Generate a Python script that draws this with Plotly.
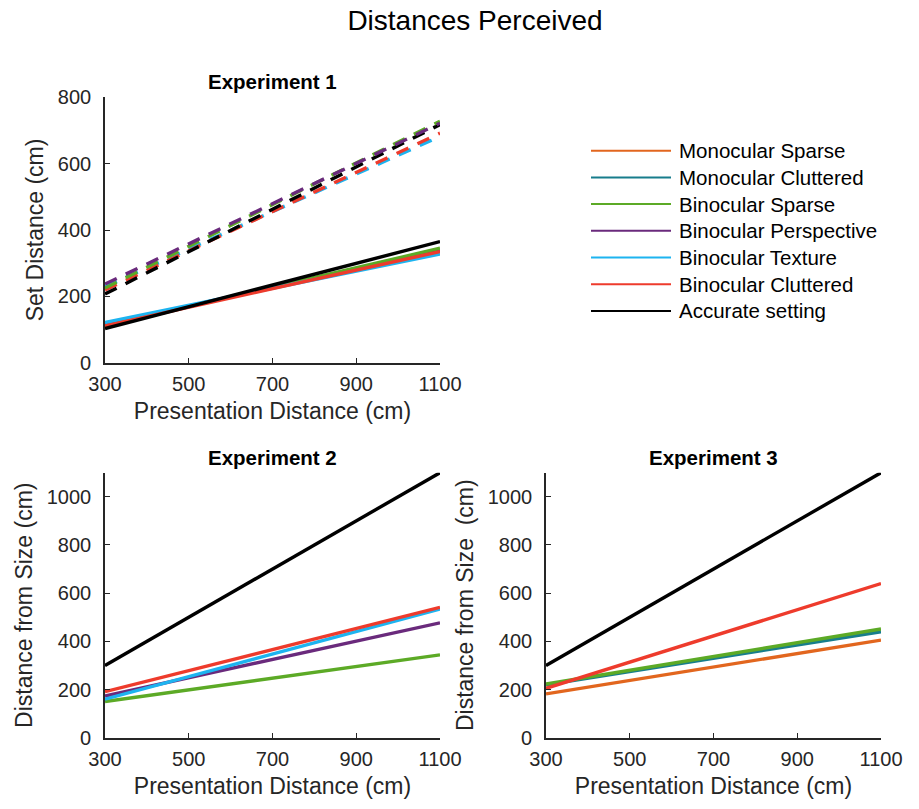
import plotly.graph_objects as go

# ---------------- data ----------------
x_ends = [300, 1100]
x_ticks = [300, 500, 700, 900, 1100]
y_ticks_exp1 = [0, 200, 400, 600, 800]
y_ticks_exp23 = [0, 200, 400, 600, 800, 1000]

series_names = ["Monocular Sparse", "Monocular Cluttered", "Binocular Sparse",
                "Binocular Perspective", "Binocular Texture", "Binocular Cluttered",
                "Accurate setting"]
series_colors = ["#E2661E", "#177D8C", "#5CAA26", "#6A2A7C", "#1DB4F0", "#EE3B2C", "#000000"]

# Experiment 1 - dashed set of lines
exp1_dashed_bin_sparse = [225, 728]
exp1_dashed_bin_persp = [237, 722]
exp1_dashed_bin_texture = [229, 682]
exp1_dashed_bin_clutter = [219, 692]
exp1_dashed_accurate = [207, 718]

# Experiment 1 - solid set of lines
exp1_solid_bin_sparse = [110, 345]
exp1_solid_bin_persp = [115, 338]
exp1_solid_bin_texture = [121, 328]
exp1_solid_bin_clutter = [111, 335]
exp1_solid_accurate = [103, 365]

# Experiment 2
exp2_bin_sparse = [150, 344]
exp2_bin_persp = [173, 477]
exp2_bin_texture = [160, 534]
exp2_bin_clutter = [191, 541]
exp2_accurate = [300, 1100]

# Experiment 3
exp3_mono_cluttered = [220, 440]
exp3_bin_sparse = [223, 451]
exp3_mono_sparse = [182, 405]
exp3_bin_clutter = [205, 640]
exp3_accurate = [300, 1100]

color = dict(zip(series_names, series_colors))

W, H = 919, 809
FONT = "Liberation Sans, Arial, sans-serif"
AX = "#262626"

fig = go.Figure()

def add_line(name, ys, xa, ya, dash="solid", width=3.4):
    fig.add_trace(go.Scatter(x=x_ends, y=ys, mode="lines", xaxis=xa, yaxis=ya,
                             line=dict(color=color[name], width=width, dash=dash),
                             showlegend=False, hoverinfo="skip", name=name))

# Exp 1 dashed
dash = "13px,10px"
add_line("Binocular Texture", exp1_dashed_bin_texture, "x", "y", dash)
add_line("Binocular Cluttered", exp1_dashed_bin_clutter, "x", "y", dash)
add_line("Accurate setting", exp1_dashed_accurate, "x", "y", dash)
add_line("Binocular Sparse", exp1_dashed_bin_sparse, "x", "y", dash)
add_line("Binocular Perspective", exp1_dashed_bin_persp, "x", "y", dash)
# Exp 1 solid
add_line("Binocular Perspective", exp1_solid_bin_persp, "x", "y")
add_line("Binocular Sparse", exp1_solid_bin_sparse, "x", "y")
add_line("Binocular Texture", exp1_solid_bin_texture, "x", "y")
add_line("Binocular Cluttered", exp1_solid_bin_clutter, "x", "y")
add_line("Accurate setting", exp1_solid_accurate, "x", "y")
# Exp 2
add_line("Binocular Sparse", exp2_bin_sparse, "x2", "y2")
add_line("Binocular Perspective", exp2_bin_persp, "x2", "y2")
add_line("Binocular Texture", exp2_bin_texture, "x2", "y2")
add_line("Binocular Cluttered", exp2_bin_clutter, "x2", "y2")
add_line("Accurate setting", exp2_accurate, "x2", "y2")
# Exp 3
add_line("Monocular Cluttered", exp3_mono_cluttered, "x3", "y3")
add_line("Binocular Sparse", exp3_bin_sparse, "x3", "y3")
add_line("Monocular Sparse", exp3_mono_sparse, "x3", "y3")
add_line("Binocular Cluttered", exp3_bin_clutter, "x3", "y3")
add_line("Accurate setting", exp3_accurate, "x3", "y3")

def px_x(a, b):
    return [a / W, b / W]

def px_y(top, bottom):
    return [1 - bottom / H, 1 - top / H]

axis_common = dict(showgrid=False, zeroline=False, showline=True, linecolor=AX, linewidth=1.6,
                   ticks="inside", ticklen=5, tickwidth=1.3, tickcolor=AX, mirror=False,
                   automargin=False,
                   tickfont=dict(family=FONT, size=20, color=AX))
title_font = dict(family=FONT, size=23, color=AX)

fig.update_layout(
    width=W, height=H, margin=dict(l=0, r=0, t=0, b=0),
    paper_bgcolor="white", plot_bgcolor="white",
    font=dict(family=FONT, color=AX),
    showlegend=False,
    title=dict(text="Distances Perceived", x=475 / W, xanchor="center", y=1 - 20 / H, yanchor="middle",
               font=dict(family=FONT, size=28, color="#000000")),
    xaxis=dict(domain=px_x(105, 440), range=[300, 1100], tickvals=x_ticks, anchor="y",
               ticklabelstandoff=2,
               title=dict(text="Presentation Distance (cm)", font=title_font, standoff=9), **axis_common),
    yaxis=dict(domain=px_y(97.3, 362.7), range=[0, 800], tickvals=y_ticks_exp1, anchor="x",
               ticklabelstandoff=8,
               title=dict(text="Set Distance (cm)", font=title_font, standoff=8), **axis_common),
    xaxis2=dict(domain=px_x(105, 440), range=[300, 1100], tickvals=x_ticks, anchor="y2",
                ticklabelstandoff=2,
                title=dict(text="Presentation Distance (cm)", font=title_font, standoff=9), **axis_common),
    yaxis2=dict(domain=px_y(472.7, 737.7), range=[0, 1100], tickvals=y_ticks_exp23, anchor="x2",
                ticklabelstandoff=8,
                title=dict(text="Distance from Size (cm)", font=title_font, standoff=8), **axis_common),
    xaxis3=dict(domain=px_x(546, 881), range=[300, 1100], tickvals=x_ticks, anchor="y3",
                ticklabelstandoff=2,
                title=dict(text="Presentation Distance (cm)", font=title_font, standoff=9), **axis_common),
    yaxis3=dict(domain=px_y(472.7, 737.7), range=[0, 1100], tickvals=y_ticks_exp23, anchor="x3",
                ticklabelstandoff=8,
                title=dict(text="Distance from Size  (cm)", font=title_font, standoff=8), **axis_common),
)

# subplot titles
for text, xc, ytop in [("Experiment 1", 272.5, 97.3), ("Experiment 2", 272.5, 472.7), ("Experiment 3", 713.5, 472.7)]:
    fig.add_annotation(text="<b>" + text + "</b>", x=xc / W, y=1 - (ytop - 2) / H, xref="paper", yref="paper",
                       xanchor="center", yanchor="bottom", showarrow=False,
                       font=dict(family=FONT, size=20.5, color="#000000"))

# legend (drawn as line keys + text labels)
leg_x0, leg_x1, leg_tx, leg_y0, leg_dy = 591, 671, 677, 150.7, 26.7
for i, n in enumerate(series_names):
    yy = 1 - (leg_y0 + i * leg_dy) / H
    fig.add_shape(type="line", xref="paper", yref="paper", x0=leg_x0 / W, x1=leg_x1 / W, y0=yy, y1=yy,
                  line=dict(color=color[n], width=2))
    fig.add_annotation(text=n, x=leg_tx / W, y=yy, xref="paper", yref="paper", xanchor="left",
                       yanchor="middle", showarrow=False,
                       font=dict(family=FONT, size=20.5, color="#000000"))

fig.write_html("out.html", config={"displayModeBar": False},
               post_script="document.body.style.margin='0';")
